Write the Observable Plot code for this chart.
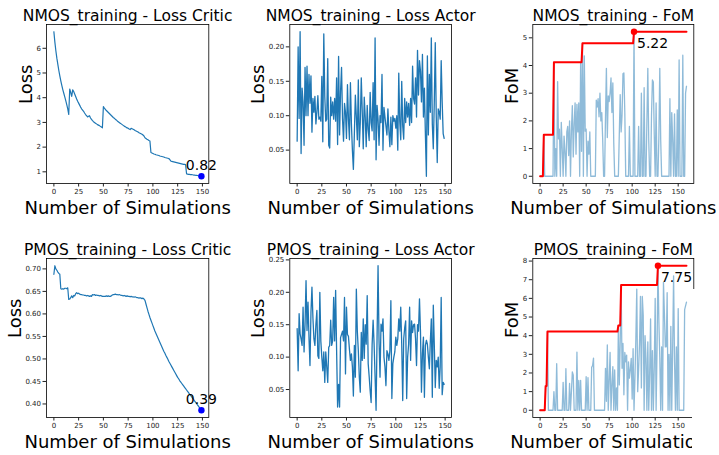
<!DOCTYPE html>
<html><head><meta charset="utf-8">
<script src="https://cdn.jsdelivr.net/npm/d3@7"></script>
<script src="https://cdn.jsdelivr.net/npm/@observablehq/plot@0.6"></script>
<style>
html,body{margin:0;padding:0;background:#fff;}
#fig{position:relative;width:719px;height:455px;overflow:hidden;font-family:"DejaVu Sans",sans-serif;}
#fig svg{position:absolute;left:0;top:0;}
#cover{position:absolute;left:692px;top:289px;width:27px;height:166px;background:#fff;}
</style></head><body><div id="fig"></div>
<script>
// ---------- data ----------
const xLabel = "Number of Simulations";
const titles = ["NMOS_training - Loss Critic","NMOS_training - Loss Actor","NMOS_training - FoM",
                "PMOS_training - Loss Critic","PMOS_training - Loss Actor","PMOS_training - FoM"];
const yLabels = ["Loss","Loss","FoM","Loss","Loss","FoM"];
const xTicks = [0,25,50,75,100,125,150];
const yTicksNCritic = [1,2,3,4,5,6];
const yTicksNActor = [0.05,0.10,0.15,0.20];
const yTicksNFoM = [0,1,2,3,4,5];
const yTicksPCritic = [0.40,0.45,0.50,0.55,0.60,0.65,0.70];
const yTicksPActor = [0.05,0.10,0.15,0.20,0.25];
const yTicksPFoM = [0,1,2,3,4,5,6,7,8];

const nmosCritic = [
6.67,6.25,5.9,5.6,5.35,5.1,4.88,4.68,4.5,4.33,
4.18,4.03,3.88,3.72,3.55,3.32,4.35,4.22,4.05,4.32,
4.25,4.15,4.05,3.95,3.86,3.78,3.7,3.62,3.55,3.5,
3.45,3.38,3.32,3.27,3.22,3.25,3.27,3.18,3.12,3.07,
3.03,3.0,2.97,2.94,2.91,2.89,2.87,2.84,2.81,2.78,
3.64,3.58,3.53,3.48,3.44,3.4,3.36,3.32,3.28,3.24,
3.2,3.17,3.13,3.1,3.06,3.03,3.0,2.97,2.94,2.91,
2.88,2.85,2.83,2.8,2.78,2.76,2.73,2.71,2.76,2.74,
2.72,2.7,2.67,2.65,2.63,2.61,2.58,2.56,2.54,2.52,
2.49,2.45,2.38,2.35,2.32,2.3,2.27,2.25,1.78,1.76,
1.74,1.72,1.71,1.69,1.68,1.67,1.66,1.64,1.63,1.62,
1.61,1.6,1.58,1.57,1.56,1.55,1.54,1.5,1.44,1.42,
1.41,1.4,1.39,1.38,1.37,1.36,1.35,1.34,1.33,1.32,
1.31,1.3,1.3,1.29,0.92,0.91,0.9,0.9,0.89,0.89,
0.88,0.87,0.87,0.86,0.86,0.85,0.84,0.83,0.83,0.82];

const nmosActor = [
0.063,0.200,0.096,0.222,0.045,0.140,0.120,0.057,0.170,0.100,
0.172,0.100,0.160,0.118,0.158,0.076,0.125,0.105,0.128,0.088,
0.105,0.129,0.095,0.098,0.092,0.157,0.062,0.219,0.128,0.092,
0.095,0.183,0.057,0.053,0.127,0.100,0.120,0.095,0.125,0.092,
0.155,0.058,0.186,0.072,0.135,0.170,0.095,0.063,0.118,0.105,
0.067,0.145,0.095,0.065,0.148,0.088,0.050,0.022,0.074,0.130,
0.098,0.065,0.152,0.055,0.090,0.155,0.105,0.052,0.127,0.098,
0.055,0.115,0.080,0.064,0.134,0.090,0.078,0.148,0.065,0.213,
0.036,0.115,0.095,0.057,0.100,0.090,0.160,0.050,0.112,0.098,
0.085,0.072,0.110,0.078,0.055,0.098,0.058,0.100,0.092,0.096,
0.082,0.100,0.050,0.162,0.092,0.065,0.150,0.085,0.066,0.125,
0.090,0.120,0.098,0.118,0.086,0.125,0.090,0.172,0.125,0.117,
0.155,0.098,0.195,0.130,0.180,0.165,0.120,0.189,0.098,0.140,
0.072,0.012,0.187,0.072,0.160,0.105,0.213,0.088,0.052,0.120,
0.206,0.098,0.032,0.110,0.105,0.095,0.180,0.120,0.074,0.067];

const nmosFoM = [
0,0,0,0,1.5,0,0,0,0,0,
0,0,0,0,0,4.12,0,1.0,0,3.42,
1.35,1.7,0,1.95,1.0,0,1.45,0.9,0,1.6,
1.8,0.75,2.0,0,1.65,2.55,0.7,1.9,2.65,0.8,
2.6,1.6,2.65,0,4.1,0.9,4.8,0,4.35,1.63,
1.7,0,1.27,0.8,1.6,0,0,0,0,0,
0,2.75,2.5,2.8,2.15,3.0,2.0,2.3,1.3,0,
0,2.1,3.9,1.4,2.9,2.7,3.0,3.55,2.3,3.37,
1.2,0,0,0,0,0,1.5,2.95,1.6,2.2,
3.7,3.73,2.3,0,0,0,0,1.8,0,0,
0,0,5.22,0,0,0,0,1.8,0,0,
3.0,0,0,3.2,0,0,2.0,3.9,1.3,0,
0,2.2,3.48,3.4,1.5,0,2.65,0,0,1.4,
3.9,1.3,0,0,0,0,0,0,0,0,
0,2.8,0,2.3,1.3,0,2.25,0,0,2.4,
0,4.2,0,0,0,4.37,0,0,3.0,3.25];

const pmosCritic = [
0.688,0.707,0.700,0.697,0.693,0.690,0.688,0.656,0.655,0.656,
0.655,0.657,0.657,0.656,0.658,0.632,0.633,0.636,0.640,0.636,
0.641,0.640,0.645,0.647,0.645,0.646,0.644,0.643,0.643,0.642,
0.642,0.641,0.641,0.640,0.641,0.640,0.639,0.640,0.639,0.643,
0.642,0.643,0.641,0.642,0.641,0.641,0.640,0.641,0.640,0.639,
0.639,0.639,0.639,0.640,0.639,0.640,0.639,0.639,0.640,0.642,
0.643,0.643,0.644,0.643,0.643,0.642,0.643,0.642,0.641,0.641,
0.640,0.641,0.640,0.639,0.640,0.639,0.639,0.638,0.639,0.638,
0.638,0.637,0.638,0.637,0.636,0.636,0.635,0.636,0.635,0.634,
0.635,0.633,0.630,0.622,0.614,0.606,0.599,0.592,0.586,0.580,
0.574,0.568,0.562,0.557,0.552,0.547,0.542,0.537,0.532,0.527,
0.522,0.517,0.513,0.508,0.504,0.500,0.495,0.491,0.487,0.483,
0.479,0.475,0.471,0.467,0.463,0.459,0.456,0.452,0.449,0.446,
0.443,0.440,0.437,0.434,0.431,0.428,0.425,0.422,0.419,0.416,
0.413,0.410,0.407,0.404,0.401,0.398,0.395,0.392,0.389,0.386];

const pmosActor = [
0.144,0.079,0.167,0.136,0.128,0.118,0.177,0.108,0.150,0.218,
0.141,0.185,0.130,0.087,0.169,0.208,0.160,0.128,0.118,0.150,
0.172,0.102,0.098,0.200,0.125,0.100,0.079,0.108,0.061,0.108,
0.085,0.061,0.115,0.118,0.157,0.118,0.125,0.192,0.125,0.203,
0.110,0.023,0.058,0.023,0.130,0.135,0.140,0.125,0.192,0.074,
0.177,0.135,0.132,0.112,0.095,0.105,0.085,0.040,0.118,0.069,
0.205,0.140,0.110,0.069,0.046,0.138,0.095,0.159,0.098,0.150,
0.120,0.195,0.090,0.070,0.048,0.030,0.120,0.157,0.120,0.069,
0.018,0.130,0.241,0.125,0.069,0.151,0.140,0.159,0.100,0.085,
0.056,0.110,0.105,0.095,0.110,0.187,0.036,0.090,0.100,0.108,
0.131,0.118,0.128,0.159,0.140,0.177,0.120,0.033,0.128,0.145,
0.156,0.036,0.100,0.120,0.177,0.095,0.156,0.138,0.150,0.151,
0.128,0.087,0.150,0.140,0.190,0.140,0.046,0.105,0.131,0.038,
0.118,0.126,0.120,0.100,0.082,0.125,0.159,0.038,0.180,0.120,
0.053,0.095,0.085,0.100,0.052,0.085,0.192,0.042,0.061,0.058];

const pmosFoM = [
0,0,0,0,0,0,1.3,1.3,4.22,0,
0,0,0,0,0,1.0,0,0,2.5,0,
0,0,0,0,0,1.5,0,0,2.23,0,
0,0,1.44,0,1.0,2.06,1.88,0,0,0,
3.12,0,1.6,0,1.6,0,0,0,0,0,
1.8,0,1.75,0,0,0,2.3,2.4,2.8,0,
0,0,0,0,0,0,0,0,0,0,
0,2.25,0.48,3.5,0,1.6,3.1,0,1.36,2.34,
0,2.16,0,1.2,0,4.55,1.36,3.67,6.72,2.25,
3.58,0.83,3.1,2.6,2.96,0,2.6,1.72,2.2,2.78,
0.6,3.3,0,1.7,3.85,6.5,1.0,2.2,3.6,6.1,
1.2,6.1,5.1,0,4.0,2.8,0,3.67,0,2.0,
4.9,0,3.2,0,2.3,6.0,0,3.2,7.75,4.8,
2.8,0,3.4,0,6.86,5.2,3.4,3.4,6.3,0,
3.0,0,4.5,0,3.4,7.2,2.7,0,3.4,0,
5.45,0,0,0,0,0,0,5.4,5.6,5.8];

// ---------- layout ----------
const W = 719, H = 455;
const colX = [[46, 208.3], [289.3, 451], [532.3, 693.3]];
const rowY = [[24, 183], [258, 417]];
const fig = document.getElementById("fig");
const tab = "#1f77b4";

const toRows = arr => arr.map((v, i) => ({x: i, y: v}));
const cummax = arr => { let m = -Infinity; return arr.map((v, i) => ({x: i, y: (m = Math.max(m, v))})); };

function panel(o) {
  const [x0, x1] = colX[o.col], [y0, y1] = rowY[o.row];
  const n = o.values.length;
  const [lo, hi] = d3.extent(o.values);
  const pad = (hi - lo) * 0.05;
  const plot = Plot.plot({
    width: W, height: H,
    marginLeft: x0, marginRight: W - x1, marginTop: y0, marginBottom: H - y1,
    style: {background: "transparent", fontFamily: "DejaVu Sans, sans-serif", fontSize: "7px", color: "#222"},
    x: {domain: [-(n - 1) * 0.05, (n - 1) * 1.05]},
    y: {domain: [lo - pad, hi + pad]},
    marks: [
      ...o.marks,
      Plot.frame({stroke: "#000", strokeWidth: 0.8}),
      Plot.axisX({ticks: xTicks, tickSize: 3.5, tickPadding: 2, fontSize: 7, label: null, tickFormat: d3.format("d")}),
      Plot.axisY({ticks: o.yTicks, tickFormat: o.fmt, tickSize: 3.5, tickPadding: 2, fontSize: 7, label: null}),
      Plot.text([o.title], {text: d => d, frameAnchor: "top", lineAnchor: "bottom", dy: -4, fontSize: 15.5, fill: "#000"}),
      Plot.text([xLabel], {text: d => d, frameAnchor: "bottom", lineAnchor: "bottom", dy: 30, fontSize: 18, fill: "#000"}),
      Plot.text([o.ylabel], {text: d => d, frameAnchor: "left", lineAnchor: "bottom", rotate: -90, dx: o.ylDx, fontSize: 18, fill: "#000"})
    ]
  });
  fig.appendChild(plot);
}

function criticMarks(values) {
  const rows = toRows(values);
  const last = [rows[rows.length - 1]];
  return [
    Plot.line(rows, {x: "x", y: "y", stroke: tab, strokeWidth: 1.2}),
    Plot.dot(last, {x: "x", y: "y", r: 3.2, fill: "blue", stroke: "none"}),
    Plot.text(last, {x: "x", y: "y", text: d => d.y.toFixed(2), lineAnchor: "bottom", dy: -6.5, fontSize: 14, fill: "#000"})
  ];
}
function actorMarks(values) {
  return [Plot.line(toRows(values), {x: "x", y: "y", stroke: tab, strokeWidth: 1.3})];
}
function fomMarks(values) {
  const rows = toRows(values);
  const best = cummax(values);
  const top = [rows[d3.maxIndex(values)]];
  return [
    Plot.line(rows, {x: "x", y: "y", stroke: tab, strokeOpacity: 0.5, strokeWidth: 1.3}),
    Plot.line(best, {x: "x", y: "y", stroke: "red", strokeWidth: 2}),
    Plot.dot(top, {x: "x", y: "y", r: 3.2, fill: "red", stroke: "none"}),
    Plot.text(top, {x: "x", y: "y", text: d => d.y.toFixed(2), textAnchor: "start", lineAnchor: "bottom", dx: 3, dy: 16, fontSize: 14, fill: "#000"})
  ];
}

const f2 = d3.format(".2f"), fi = d3.format("d");
panel({col: 0, row: 0, values: nmosCritic, marks: criticMarks(nmosCritic), yTicks: yTicksNCritic, fmt: fi, title: titles[0], ylabel: yLabels[0], ylDx: -14.5});
panel({col: 1, row: 0, values: nmosActor, marks: actorMarks(nmosActor), yTicks: yTicksNActor, fmt: f2, title: titles[1], ylabel: yLabels[1], ylDx: -25.5});
panel({col: 2, row: 0, values: nmosFoM, marks: fomMarks(nmosFoM), yTicks: yTicksNFoM, fmt: fi, title: titles[2], ylabel: yLabels[2], ylDx: -15});
panel({col: 0, row: 1, values: pmosCritic, marks: criticMarks(pmosCritic), yTicks: yTicksPCritic, fmt: f2, title: titles[3], ylabel: yLabels[3], ylDx: -25.5});
panel({col: 1, row: 1, values: pmosActor, marks: actorMarks(pmosActor), yTicks: yTicksPActor, fmt: f2, title: titles[4], ylabel: yLabels[4], ylDx: -26});
panel({col: 2, row: 1, values: pmosFoM, marks: fomMarks(pmosFoM), yTicks: yTicksPFoM, fmt: fi, title: titles[5], ylabel: yLabels[5], ylDx: -15});

const cover = document.createElement("div");
cover.id = "cover";
fig.appendChild(cover);
</script>
</body></html>
